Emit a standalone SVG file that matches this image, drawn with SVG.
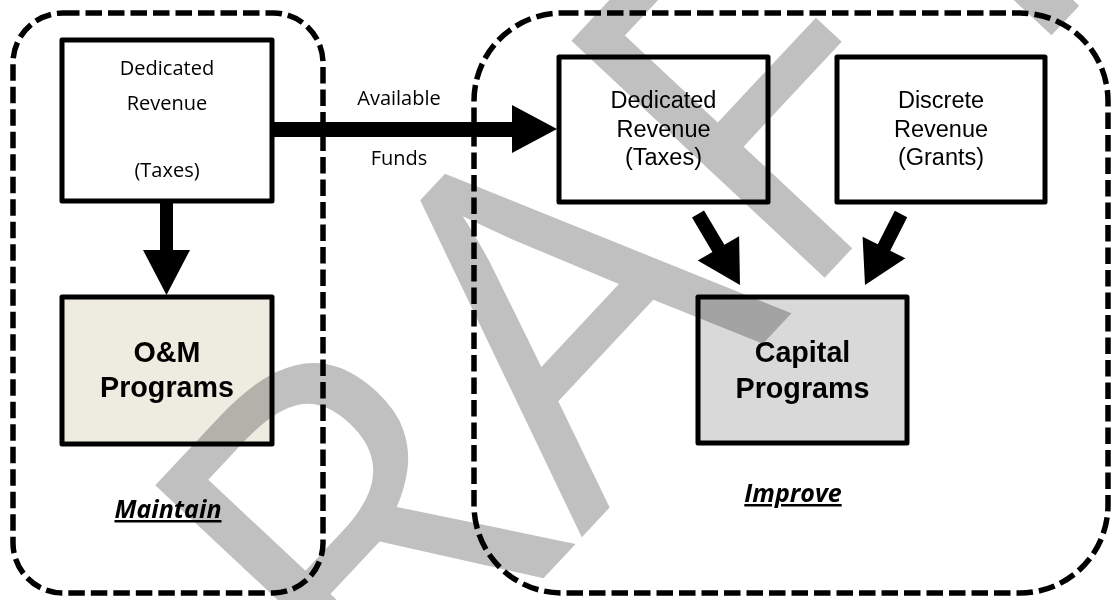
<svg xmlns="http://www.w3.org/2000/svg" width="1112" height="600" viewBox="0 0 1112 600">
<style>
.cont{fill:none;stroke:#000;stroke-width:5.5;stroke-dasharray:16.5 6}
.box{stroke:#000;stroke-width:5;stroke-linejoin:round}
.cal{font-family:"Open Sans","Noto Sans",sans-serif;font-size:20px;fill:#000;text-anchor:middle}
.ari{font-family:"Liberation Sans",Arial,sans-serif;font-size:23.5px;fill:#000;text-anchor:middle}
.big{font-family:"Liberation Sans",Arial,sans-serif;font-size:28.7px;font-weight:bold;fill:#000;text-anchor:middle}
.lbl{font-family:"Open Sans","Noto Sans",sans-serif;font-size:25px;font-weight:bold;font-style:italic;fill:#000;text-anchor:middle;text-decoration:underline}
.arr{fill:#000}
.wm{font-family:"Open Sans","Noto Sans",sans-serif;font-size:486px;fill:#c0c0c0;mix-blend-mode:multiply}
</style>
<rect width="1112" height="600" fill="#fff"/>
<g id="maintain-group">
<rect class="cont" x="13" y="13" width="310" height="580" rx="50" ry="50"/>
<text class="lbl" x="168" y="518">Maintain</text>
</g>
<g id="improve-group">
<rect class="cont" x="474" y="13" width="634" height="580" rx="88" ry="88"/>
<text class="lbl" x="793" y="502">Improve</text>
</g>
<g id="dedicated-left">
<rect class="box" x="62" y="40" width="210" height="161" fill="#fff"/>
<text class="cal" x="167" y="75">Dedicated</text>
<text class="cal" x="167" y="110">Revenue</text>
<text class="cal" x="167" y="177">(Taxes)</text>
</g>
<g id="om-programs">
<rect class="box" x="62" y="297" width="210" height="147" fill="#eeece1"/>
<text class="big" x="167" y="362">O&amp;M</text>
<text class="big" x="167" y="397">Programs</text>
</g>
<g id="dedicated-right">
<rect class="box" x="559" y="57" width="209" height="145" fill="#fff"/>
<text class="ari" x="663.5" y="108">Dedicated</text>
<text class="ari" x="663.5" y="137">Revenue</text>
<text class="ari" x="663.5" y="165">(Taxes)</text>
</g>
<g id="discrete-revenue">
<rect class="box" x="837" y="57" width="208" height="145" fill="#fff"/>
<text class="ari" x="941" y="108">Discrete</text>
<text class="ari" x="941" y="137">Revenue</text>
<text class="ari" x="941" y="165">(Grants)</text>
</g>
<g id="capital-programs">
<rect class="box" x="698" y="297" width="209" height="146" fill="#d9d9d9"/>
<text class="big" x="802.5" y="362">Capital</text>
<text class="big" x="802.5" y="398">Programs</text>
</g>
<g id="connectors">
<polygon class="arr" points="160,201 173,201 173,250 190,250 166.5,295 143,250 160,250"/>
<polygon class="arr" points="272,122 512,122 512,105 557,129 512,153 512,137 272,137"/>
<polygon class="arr" points="704,210.4 724.4,244.8 739.1,236.2 740,285 697.7,260.6 712.4,252 692,217.6"/>
<polygon class="arr" points="894.8,210.8 907.2,217.2 890.2,250.7 905.4,258.3 865,285 862.6,236.7 877.8,244.3"/>
<text class="cal" x="399" y="105">Available</text>
<text class="cal" x="399" y="165">Funds</text>
</g>
<g id="watermark">
<text class="wm" transform="translate(581.8,537.3) rotate(-46.9)" x="-651 -301 0 308 574">DRAFT</text>
</g>
</svg>
